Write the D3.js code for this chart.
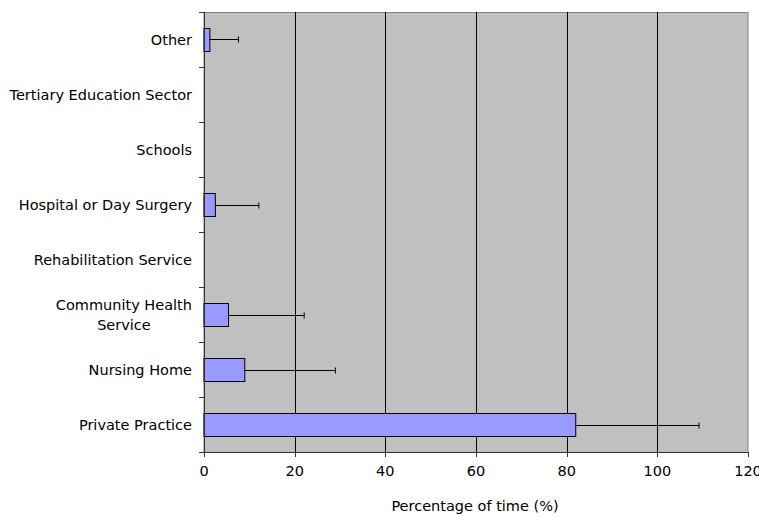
<!DOCTYPE html>
<html><head><meta charset="utf-8">
<script src="https://cdn.jsdelivr.net/npm/d3@7"></script>
<style>body{margin:0;background:#fff}svg{display:block}text{font-family:"DejaVu Sans",sans-serif;font-size:14.5px;fill:#000}</style>
</head><body><svg id="c" width="759" height="516"></svg>
<script>
const categories = ["Other","Tertiary Education Sector","Schools","Hospital or Day Surgery","Rehabilitation Service","Community Health Service","Nursing Home","Private Practice"];
const labelLines = [["Other"],["Tertiary Education Sector"],["Schools"],["Hospital or Day Surgery"],["Rehabilitation Service"],["Community Health","Service"],["Nursing Home"],["Private Practice"]];
const meanValues = [1.3, 0, 0, 2.5, 0, 5.4, 9.0, 82.0];
const errorValues = [6.3, 0, 0, 9.6, 0, 16.7, 20.0, 27.2];
const xTicks = [0,20,40,60,80,100,120];
const xTitle = "Percentage of time (%)";

const svg = d3.select("#c");
const L=204, R=748, T=12, B=452;
const x = d3.scaleLinear().domain([0,120]).range([L,R]);
const y = d3.scaleBand().domain(categories).range([T,B]).paddingInner(0.59).paddingOuter(0.295);

svg.append("rect").attr("x",L).attr("y",T+0.5).attr("width",R-L).attr("height",B-T).attr("fill","#c0c0c0").attr("stroke","#808080").attr("stroke-width",1);

svg.append("g").selectAll("line").data(xTicks.filter(t=>t>0&&t<120)).join("line")
  .attr("x1",d=>Math.round(x(d))+0.5).attr("x2",d=>Math.round(x(d))+0.5).attr("y1",T).attr("y2",B)
  .attr("stroke","#000").attr("stroke-width",1);

const bars = categories.map((c,i)=>({c, v:meanValues[i], e:errorValues[i]}));
svg.append("g").selectAll("rect").data(bars).join("rect")
  .attr("x",x(0)).attr("y",d=>Math.round(y(d.c))+0.5).attr("width",d=>x(d.v)-x(0)).attr("height",Math.round(y.bandwidth()))
  .attr("fill","#9999ff").attr("stroke","#000").attr("stroke-width",1);

const eb = svg.append("g").attr("stroke","#000").attr("stroke-width",1);
bars.filter(d=>d.e>0).forEach(d=>{
  const cy = Math.round(y(d.c)+y.bandwidth()/2)+0.5;
  eb.append("line").attr("x1",x(d.v)).attr("x2",x(d.v+d.e)).attr("y1",cy).attr("y2",cy);
  eb.append("line").attr("x1",x(d.v+d.e)).attr("x2",x(d.v+d.e)).attr("y1",cy-3).attr("y2",cy+3);
});

const yAxis = svg.append("g");
yAxis.append("line").attr("x1",L+0.5).attr("x2",L+0.5).attr("y1",T).attr("y2",B+5).attr("stroke","#333");
const bounds = categories.map(c=>y(c)-y.step()*y.paddingInner()/2).concat([B]);
yAxis.selectAll("line.t").data(bounds).join("line").attr("class","t")
  .attr("x1",L-5).attr("x2",L).attr("y1",d=>Math.round(d)+0.5).attr("y2",d=>Math.round(d)+0.5).attr("stroke","#333");

labelLines.forEach((lines,i)=>{
  const cy = y(categories[i])+y.bandwidth()/2;
  if(lines.length===1){
    svg.append("text").attr("x",192).attr("y",cy).attr("dy","0.35em").attr("text-anchor","end").text(lines[0]);
  } else {
    const t1 = svg.append("text").attr("x",192).attr("y",cy-9.5).attr("dy","0.35em").attr("text-anchor","end").text(lines[0]);
    const w = t1.node().getComputedTextLength();
    svg.append("text").attr("x",192-w/2).attr("y",cy+10.5).attr("dy","0.35em").attr("text-anchor","middle").text(lines[1]);
  }
});

const xAxis = svg.append("g");
xAxis.append("line").attr("x1",L).attr("x2",R).attr("y1",B+0.5).attr("y2",B+0.5).attr("stroke","#333");
xAxis.selectAll("line.t").data(xTicks).join("line").attr("class","t")
  .attr("x1",d=>Math.round(x(d))+0.5).attr("x2",d=>Math.round(x(d))+0.5).attr("y1",B).attr("y2",B+5).attr("stroke","#333");
xAxis.selectAll("text").data(xTicks).join("text")
  .attr("x",d=>x(d)).attr("y",471).attr("dy","0.35em").attr("text-anchor","middle").text(d=>d);

svg.append("text").attr("x",475).attr("y",506).attr("dy","0.35em").attr("text-anchor","middle").text(xTitle);
</script></body></html>
